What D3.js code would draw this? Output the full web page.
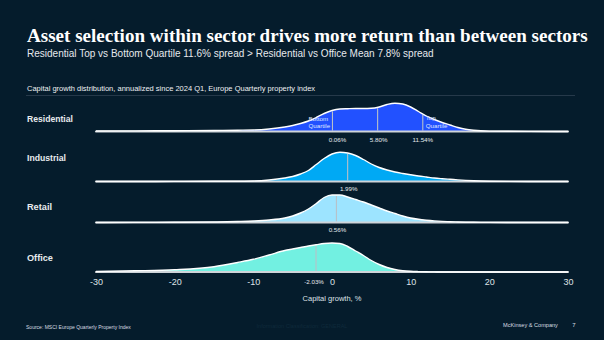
<!DOCTYPE html>
<html><head><meta charset="utf-8">
<script src="https://cdn.jsdelivr.net/npm/d3@7"></script>
<style>
html,body{margin:0;padding:0;background:#051c2c;}
svg{display:block;}
</style></head>
<body>
<svg id="chart" width="604" height="340"></svg>
<script>
// ---------- DATA ----------
const title = "Asset selection within sector drives more return than between sectors";
const subtitle = "Residential Top vs Bottom Quartile 11.6% spread > Residential vs Office Mean 7.8% spread";
const note = "Capital growth distribution, annualized since 2024 Q1, Europe Quarterly property index";
const source = "Source: MSCI Europe Quarterly Property Index";
const axisTitle = "Capital growth, %";
const sectors = ["Residential", "Industrial", "Retail", "Office"];
const xTicks = [-30, -20, -10, 0, 10, 20, 30];
// growth grid (%) and density index per sector
const growthGrid = [-30,-25,-20,-15,-12,-10,-8,-6,-5,-4,-3,-2,-1,0,1,2,3,4,5,6,7,8,9,10,11,12,13,14,15,16,17,18,20,25,30];
const residentialDensity = [0.5,0.6,0.8,1.0,1.3,1.5,2.5,4.5,6,8,10.5,14,18,21,22.5,22.8,23,23,23.2,24.5,27,28.3,27.5,24.5,20,15.5,12,9,6.5,4,2.2,1.2,0.4,0.1,0];
const industrialDensity  = [0,0,0.1,0.2,0.3,0.5,1.5,3.5,5,7.5,11,17,23,27.5,29.3,28.5,26,22,17.5,14,11.5,9.5,8,6.7,5.5,4.5,3.5,2.8,2.2,1.6,1.1,0.7,0.3,0,0];
const retailDensity      = [0,0.1,0.2,0.5,1,1.5,2.5,4.5,6.5,9.5,13.5,19,25,27.5,27.5,25.5,23,20.5,17.5,14.5,11.5,9,6.5,4.5,3.2,2.3,1.6,1.1,0.8,0.5,0.3,0.2,0.1,0,0];
const officeDensity      = [0.5,1.2,2.3,5.3,9.5,12.7,17,21.5,23,24.5,26,27.3,28.5,29,28.5,25.5,21,16.5,11.5,7.5,4.5,2.5,1.3,0.7,0.4,0.2,0.1,0,0,0,0,0,0,0,0];
// marker values (%)
const residentialQuartiles = [0.06, 5.80, 11.54];
const sectorMedians = [null, 1.99, 0.56, -2.03];

// ---------- LAYOUT / STYLE ----------
const W = 604, H = 340;
const bg = "#051c2c";
const colors = ["#2251ff", "#00a9f4", "#9de4ff", "#72f0e1"];
const rowBaselines = [131.5, 181.5, 222.5, 272];
const rowLabelY = [122, 161, 210, 261];

const svg = d3.select("#chart");
svg.append("rect").attr("width", W).attr("height", H).attr("fill", bg);

function fitText(sel, width) {
  const fs = parseFloat(sel.attr("font-size"));
  const len = sel.node().getComputedTextLength();
  sel.attr("font-size", (fs * width / len).toFixed(2));
  return sel;
}

// titles
fitText(svg.append("text").attr("x", 27).attr("y", 42)
  .attr("font-family", "Liberation Serif, serif").attr("font-weight", "bold")
  .attr("font-size", 18).attr("fill", "#ffffff").text(title), 561);
fitText(svg.append("text").attr("x", 27).attr("y", 57)
  .attr("font-family", "Liberation Sans, Arial, sans-serif")
  .attr("font-size", 11).attr("fill", "#e6e9ec").text(subtitle), 407);
fitText(svg.append("text").attr("x", 27).attr("y", 90.5)
  .attr("font-family", "Liberation Sans, Arial, sans-serif")
  .attr("font-size", 7).attr("fill", "#eef0f2").text(note), 288);
svg.append("line").attr("x1", 26).attr("x2", 575).attr("y1", 95.5).attr("y2", 95.5)
  .attr("stroke", "#26394a").attr("stroke-width", 1);

// scales
const x = d3.scaleLinear().domain([-30, 30]).range([96, 568]);
const h = d3.scaleLinear().domain([0, 30]).range([0, 30]);

const densities = [residentialDensity, industrialDensity, retailDensity, officeDensity];

function densityAt(arr, v) {
  const i = Math.max(1, d3.bisectLeft(growthGrid, v));
  const x0 = growthGrid[i - 1], x1 = growthGrid[i];
  const t = (v - x0) / (x1 - x0);
  return arr[i - 1] + (arr[i] - arr[i - 1]) * t;
}

sectors.forEach((s, si) => {
  const base = rowBaselines[si];
  const pts = growthGrid.map((g, i) => [g, densities[si][i]]);
  const g = svg.append("g");

  // row label
  fitText(g.append("text").attr("x", 27).attr("y", rowLabelY[si])
    .attr("font-family", "Liberation Sans, Arial, sans-serif").attr("font-weight", "bold")
    .attr("font-size", 9).attr("fill", "#e8ebee").text(s),
    {Residential: 46, Industrial: 39, Retail: 25, Office: 26}[s]);

  const area = d3.area().x(d => x(d[0])).y0(base).y1(d => base - h(d[1])).curve(d3.curveMonotoneX);
  const line = d3.line().x(d => x(d[0])).y(d => base - h(d[1])).curve(d3.curveMonotoneX);

  g.append("path").attr("d", area(pts)).attr("fill", colors[si]);

  // marker lines
  const vals = si === 0 ? residentialQuartiles : [sectorMedians[si]];
  vals.forEach(v => {
    g.append("line").attr("x1", x(v)).attr("x2", x(v))
      .attr("y1", base - 1).attr("y2", base - h(densityAt(densities[si], v)) + 1)
      .attr("stroke", "#b8c0c8").attr("stroke-width", 1.1);
  });

  // baseline + outline
  g.append("line").attr("x1", x(-30)).attr("x2", x(30)).attr("y1", base).attr("y2", base)
    .attr("stroke", "#cfd4d9").attr("stroke-width", 2.2).attr("stroke-linecap", "round");
  g.append("path").attr("d", line(pts)).attr("fill", "none")
    .attr("stroke", "#ffffff").attr("stroke-width", 1.4);

  // value labels
  const lblFont = "Liberation Sans, Arial, sans-serif";
  if (si === 0) {
    vals.forEach((v, k) => {
      g.append("text").attr("x", x(v) + [5, 1, 0][k]).attr("y", base + 10)
        .attr("text-anchor", "middle").attr("font-family", lblFont).attr("font-size", 6.2)
        .attr("fill", "#e6e9ec").text(v.toFixed(2) + "%");
    });
    const bq = g.append("text").attr("font-family", lblFont).attr("font-size", 6.2).attr("fill", "#dfe6ff");
    bq.append("tspan").attr("x", x(residentialQuartiles[0]) - 24).attr("y", base - 11).text("Bottom");
    bq.append("tspan").attr("x", x(residentialQuartiles[0]) - 24).attr("y", base - 3.5).text("Quartile");
    const tq = g.append("text").attr("font-family", lblFont).attr("font-size", 6.2).attr("fill", "#dfe6ff");
    tq.append("tspan").attr("x", x(residentialQuartiles[2]) + 3).attr("y", base - 11.5).text("Top");
    tq.append("tspan").attr("x", x(residentialQuartiles[2]) + 3).attr("y", base - 3.5).text("Quartile");
  } else if (si < 3) {
    g.append("text").attr("x", x(sectorMedians[si]) + 1).attr("y", base + 9.5)
      .attr("text-anchor", "middle").attr("font-family", lblFont).attr("font-size", 6.2)
      .attr("fill", "#e6e9ec").text(sectorMedians[si].toFixed(2) + "%");
  } else {
    g.append("text").attr("x", x(sectorMedians[si]) - 2).attr("y", base + 11.5)
      .attr("text-anchor", "middle").attr("font-family", lblFont).attr("font-size", 6.2)
      .attr("fill", "#e6e9ec").text(sectorMedians[si].toFixed(2) + "%");
  }
});

// x axis
const xAxis = d3.axisBottom(x).tickValues(xTicks).tickSize(0).tickPadding(0).tickFormat(d => String(d));
const ax = svg.append("g").attr("transform", "translate(0,279)").call(xAxis);
ax.select(".domain").remove();
ax.selectAll("text").attr("font-family", "Liberation Sans, Arial, sans-serif")
  .attr("font-size", 9).attr("fill", "#dfe3e7");

svg.append("text").attr("x", x(0)).attr("y", 301).attr("text-anchor", "middle")
  .attr("font-family", "Liberation Sans, Arial, sans-serif").attr("font-size", 7.5)
  .attr("fill", "#dfe3e7").text(axisTitle);

// footer
fitText(svg.append("text").attr("x", 26).attr("y", 329)
  .attr("font-family", "Liberation Sans, Arial, sans-serif").attr("font-size", 5.5)
  .attr("fill", "#d8dde2").text(source), 105);
svg.append("text").attr("x", 302).attr("y", 328).attr("text-anchor", "middle")
  .attr("font-family", "Liberation Sans, Arial, sans-serif").attr("font-size", 5.5)
  .attr("fill", "#0f2a3b").text("Information Classification: GENERAL");
fitText(svg.append("text").attr("x", 503).attr("y", 327)
  .attr("font-family", "Liberation Sans, Arial, sans-serif").attr("font-size", 6)
  .attr("fill", "#d8dde2").text("McKinsey & Company"), 55);
svg.append("text").attr("x", 574).attr("y", 327).attr("text-anchor", "middle")
  .attr("font-family", "Liberation Sans, Arial, sans-serif").attr("font-size", 6)
  .attr("fill", "#d8dde2").text("7");
</script>
</body></html>
